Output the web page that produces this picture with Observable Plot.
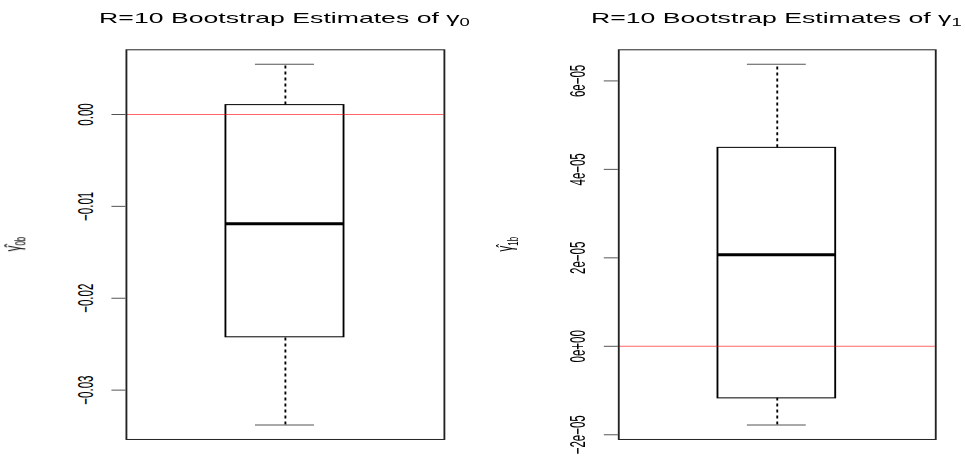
<!DOCTYPE html>
<html>
<head>
<meta charset="utf-8">
<script src="https://cdn.jsdelivr.net/npm/d3@7"></script>
<script src="https://cdn.jsdelivr.net/npm/@observablehq/plot@0.6"></script>
<style>
  html, body { margin: 0; padding: 0; background: #fff; }
  #page { width: 965px; height: 456px; overflow: hidden; position: relative; background: #fff; }
  #stretch { position: absolute; left: 0; top: 0; display: flex; transform-origin: 0 0; }
  #stretch svg { display: block; overflow: visible; }
</style>
</head>
<body>
<div id="page"><div id="stretch"></div></div>
<script>
// Five-number summaries of the bootstrap replicates: lower whisker, Q1, median, Q3, upper whisker
const gamma0Summary = [-0.0338, -0.02425, -0.0119, 0.00102, 0.00547];
const gamma1Summary = [-1.78e-5, -1.177e-5, 2.068e-5, 4.486e-5, 6.377e-5];

// Y axis ticks and their printed labels
const gamma0Ticks = [-0.03, -0.02, -0.01, 0];
const gamma0TickLabels = ["\u22120.03", "\u22120.02", "\u22120.01", "0.00"];
const gamma1Ticks = [-2e-5, 0, 2e-5, 4e-5, 6e-5];
const gamma1TickLabels = ["\u22122e\u221205", "0e+00", "2e\u221205", "4e\u221205", "6e\u221205"];

// Titles and axis label pieces
const titleText = "R=10 Bootstrap Estimates of ";
const coefficientIndex = ["0", "1"];
const referenceValue = [0];

// The whole figure is drawn narrow and stretched sideways
const S = 1.85;
const FONT = "'Liberation Sans', Arial, Helvetica, sans-serif";
const HEIGHT = 456, MT = 49.3, MB = 17;
const HALF = 0.1857, CAP = HALF / 2;

function panel({summary, ticks, tickLabels, index, width, marginLeft, marginRight}) {
  const [lo, q1, med, q3, hi] = summary;
  const pad = 0.04 * (hi - lo);
  const box = [{lo, q1, med, q3, hi}];
  const svg = Plot.plot({
    width, height: HEIGHT,
    marginLeft, marginRight, marginTop: MT, marginBottom: MB,
    style: {fontFamily: FONT, background: "white", overflow: "visible", color: "black"},
    x: {domain: [0.5, 1.5], axis: null},
    y: {domain: [lo - pad, hi + pad], axis: null},
    marks: [
      // whiskers
      Plot.ruleX(box, {x: 1, y1: "q3", y2: "hi", stroke: "black", strokeDasharray: "3,3"}),
      Plot.ruleX(box, {x: 1, y1: "lo", y2: "q1", stroke: "black", strokeDasharray: "3,3"}),
      // staples
      Plot.ruleY(box, {y: "hi", x1: 1 - CAP, x2: 1 + CAP, stroke: "#555"}),
      Plot.ruleY(box, {y: "lo", x1: 1 - CAP, x2: 1 + CAP, stroke: "#555"}),
      // box and median
      Plot.rect(box, {x1: 1 - HALF, x2: 1 + HALF, y1: "q1", y2: "q3", fill: "none", stroke: "black"}),
      Plot.ruleY(box, {y: "med", x1: 1 - HALF, x2: 1 + HALF, stroke: "black", strokeWidth: 3}),
      // true value
      Plot.ruleY(referenceValue, {stroke: "red", strokeOpacity: 0.6}),
      Plot.frame({stroke: "#222"}),
      Plot.axisY(ticks, {tickSize: 7.6, tickFormat: () => "", stroke: "#555", label: null}),
      Plot.text(ticks, {
        y: d => d, text: (d, i) => tickLabels[i],
        frameAnchor: "left", dx: -22, rotate: -90,
        textAnchor: "middle", lineAnchor: "middle",
        fontSize: 11.5, fill: "black"
      })
    ]
  });

  const s = d3.select(svg);
  const cx = marginLeft + (width - marginLeft - marginRight) / 2;
  const title = s.append("text")
    .attr("x", cx).attr("y", 22.7)
    .attr("text-anchor", "middle")
    .attr("font-family", FONT).attr("font-size", 14.4).attr("fill", "black");
  title.append("tspan").text(titleText + "\u03b3");
  title.append("tspan").attr("font-size", 10).attr("dy", 3).text(index);

  const cy = MT + (HEIGHT - MT - MB) / 2;
  const ylab = s.append("text")
    .attr("transform", `translate(${marginLeft - 57},${cy}) rotate(-90)`)
    .attr("text-anchor", "middle")
    .attr("font-family", FONT).attr("font-size", 11.5).attr("fill", "black");
  ylab.append("tspan").text("\u03b3\u0302");
  ylab.append("tspan").attr("font-size", 8).attr("dy", 3).text(index + "b");
  return svg;
}

const W = 965 / S / 2;
const holder = document.getElementById("stretch");
holder.append(panel({
  summary: gamma0Summary, ticks: gamma0Ticks, tickLabels: gamma0TickLabels, index: coefficientIndex[0],
  width: W, marginLeft: 125.5 / S, marginRight: 39 / S
}));
holder.append(panel({
  summary: gamma1Summary, ticks: gamma1Ticks, tickLabels: gamma1TickLabels, index: coefficientIndex[1],
  width: W, marginLeft: 135 / S, marginRight: 30.5 / S
}));
holder.style.transform = `scaleX(${S})`;
</script>
</body>
</html>
